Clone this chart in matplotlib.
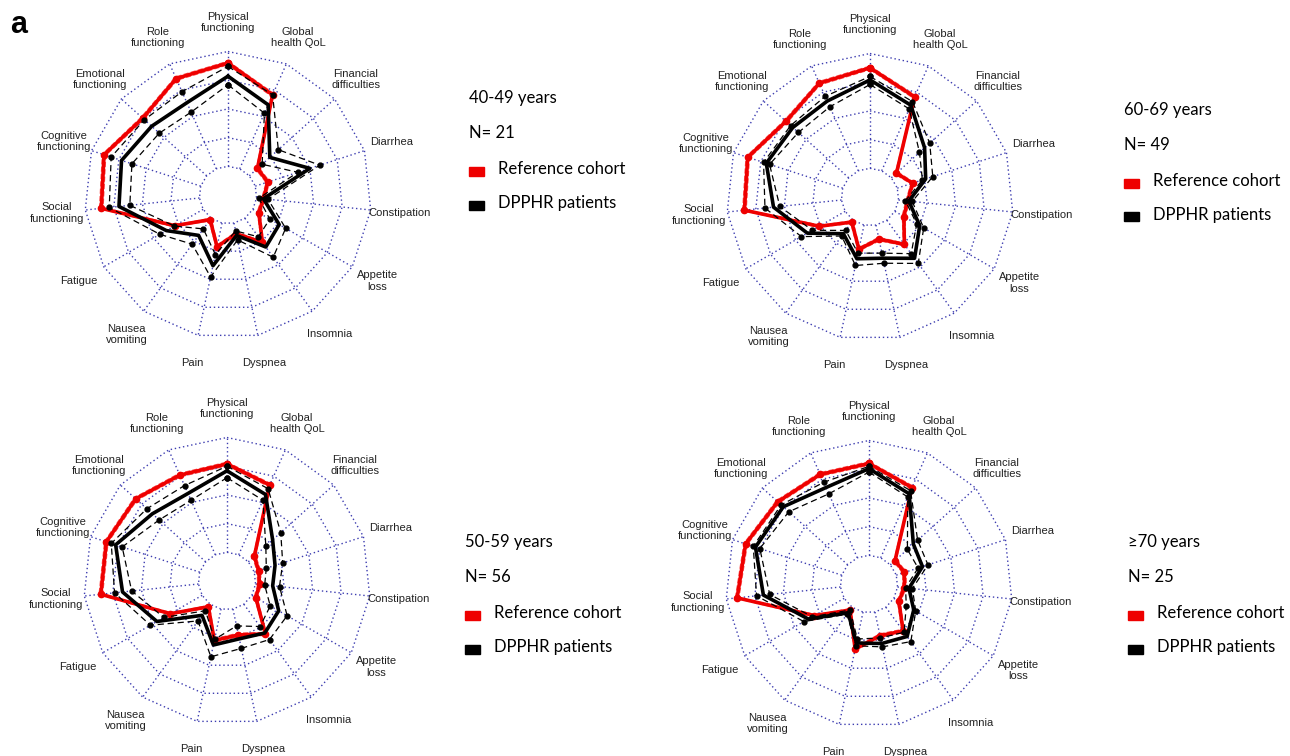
import numpy as np
import matplotlib.pyplot as plt
from matplotlib.patches import Rectangle

# EORTC QLQ-C30 scales, clockwise from the top
categories = ["Physical\nfunctioning", "Global\nhealth QoL", "Financial\ndifficulties", "Diarrhea",
              "Constipation", "Appetite\nloss", "Insomnia", "Dyspnea", "Pain", "Nausea\nvomiting",
              "Fatigue", "Social\nfunctioning", "Cognitive\nfunctioning", "Emotional\nfunctioning",
              "Role\nfunctioning"]

# 40-49 years
ref_4049 = [90, 70.5, 9.5, 11.5, 6, 6, 26, 9.5, 21, 1.5, 28.5, 86, 88.5, 75, 86]
pat_4049 = [78.5, 61, 24, 50, 6, 26.5, 31, 11, 38, 18.5, 37, 70.5, 72.5, 64.5, 63]
pat_4049_hi = [87, 70.5, 34, 59, 10, 33, 42, 15, 48, 28, 43.5, 79, 82, 73, 73.5]
pat_4049_lo = [71, 53, 15, 39, 2, 17, 20, 7, 28, 11.5, 29, 61, 63, 55.5, 54]

# 60-69 years
ref_6069 = [87.5, 70.5, 6, 14, 8, 9, 26, 12.5, 21.5, 2, 26, 85, 87, 73.5, 83.5]
pat_6069 = [77, 62.5, 39, 26, 9, 25, 41, 29.5, 30, 14.5, 38, 59.5, 70, 65.5, 66.5]
pat_6069_hi = [80, 66, 45, 32.5, 12, 29, 46.5, 34, 36, 17, 44, 67, 72.5, 68, 71]
pat_6069_lo = [73, 59, 33, 23, 6, 22, 36, 25, 25, 11, 33, 54, 67, 59, 61]

# 50-59 years
ref_5059 = [77, 66.5, 7, 4, 3.5, 4, 32, 23, 28, 2.7, 32, 85.5, 85.5, 82, 76]
pat_5059 = [71, 57.5, 28.5, 19, 15, 27, 31, 26.5, 32, 12, 45.5, 66.5, 77, 62.5, 58.5]
pat_5059_hi = [75, 63, 38, 26, 21, 35.5, 38, 35, 42.5, 18, 52, 73.5, 81, 69, 66]
pat_5059_lo = [65, 52, 20.5, 11, 8, 18.5, 24, 15, 27, 7, 38.5, 58.5, 71, 54.5, 52]

# >=70 years
ref_70 = [80, 67, 5.5, 7.5, 6, 5, 25.5, 21, 33, 3, 30, 90.5, 88, 82, 79.5]
pat_70 = [75.5, 61, 27, 24, 10, 20, 31.5, 28, 27.5, 6, 36, 67.5, 79, 75.5, 67]
pat_70_hi = [77.5, 64, 32, 29, 13, 22, 37, 31, 30, 7.5, 40.5, 73.5, 81, 78, 72]
pat_70_lo = [72.5, 58, 20, 20, 7, 12.5, 27, 23, 24, 3, 32, 62, 75, 69, 61]

# half width of the (narrow) reference cohort band
ref_band = 1.5

group_labels = ["40-49 years", "60-69 years", "50-59 years", "\u226570 years"]
group_n = ["N= 21", "N= 49", "N= 56", "N= 25"]

W, H = 1290, 756
R = 143.5
grid_c = '#3c3cb0'

fig = plt.figure(figsize=(W / 100, H / 100), dpi=100)


def close(v):
    v = list(v)
    return v + v[:1]


def radar(cx, cy, ref, pat, lo, hi):
    ax = fig.add_axes([(cx - R) / W, (H - cy - R) / H, 2 * R / W, 2 * R / H], projection='polar')
    ax.set_theta_offset(np.pi / 2)
    ax.set_theta_direction(-1)
    ax.set_rorigin(-25)
    ax.set_ylim(0, 100)
    ax.set_axis_off()

    n = len(categories)
    theta = np.linspace(0, 2 * np.pi, n, endpoint=False)
    tc = close(theta)

    # polygon grid
    for lev in [0, 25, 50, 75, 100]:
        ax.plot(tc, [lev] * (n + 1), ls=(0, (1, 2)), color=grid_c, lw=1.0, clip_on=False)
    for t in theta:
        ax.plot([t, t], [0, 100], ls=(0, (1, 2)), color=grid_c, lw=1.0, clip_on=False)

    # reference cohort
    ref_a = np.array(ref)
    ax.plot(tc, close(ref_a + ref_band), ls='--', color='#ff5555', lw=1.0, clip_on=False)
    ax.plot(tc, close(ref_a - ref_band), ls='--', color='#ff5555', lw=1.0, clip_on=False)
    ax.plot(tc, close(ref), color='#ee0000', lw=2.6, marker='o', ms=4.5, clip_on=False)

    # DPPHR patients
    ax.plot(tc, close(hi), ls=(0, (5, 3)), color='black', lw=0.9, marker='o', ms=3.5, clip_on=False)
    ax.plot(tc, close(lo), ls=(0, (5, 3)), color='black', lw=0.9, marker='o', ms=3.5, clip_on=False)
    ax.plot(tc, close(pat), color='black', lw=2.6, clip_on=False)

    for t, lab in zip(theta, categories):
        ax.text(t, 125, lab, ha='center', va='center', fontsize=8,
                family='Liberation Sans', linespacing=1.15, color='#222222')


def legend(x, y0, title, n_txt):
    fs = 12
    fig.text(x / W, 1 - y0 / H, title, fontsize=fs, family='Lato', va='center', ha='left')
    fig.text(x / W, 1 - (y0 + 35) / H, n_txt, fontsize=fs, family='Lato', va='center', ha='left')
    for dy, col, lab in [(73, '#ee0000', 'Reference cohort'), (107, 'black', 'DPPHR patients')]:
        fig.patches.append(Rectangle((x / W, 1 - (y0 + dy + 4.5) / H), 15 / W, 9 / H,
                                     transform=fig.transFigure, color=col))
        fig.text((x + 29) / W, 1 - (y0 + dy - 2) / H, lab, fontsize=fs, family='Lato',
                 va='center', ha='left')


radar(228, 195, ref_4049, pat_4049, pat_4049_lo, pat_4049_hi)
radar(870, 197, ref_6069, pat_6069, pat_6069_lo, pat_6069_hi)
radar(227, 581, ref_5059, pat_5059, pat_5059_lo, pat_5059_hi)
radar(869, 584, ref_70, pat_70, pat_70_lo, pat_70_hi)

legend(469, 98, group_labels[0], group_n[0])
legend(1124, 110, group_labels[1], group_n[1])
legend(465, 542, group_labels[2], group_n[2])
legend(1128, 542, group_labels[3], group_n[3])

fig.text(10 / W, 1 - 25 / H, 'a', fontsize=22, fontweight='bold', family='Liberation Sans',
         va='center', ha='left')

fig.savefig('out.png', dpi=100)
